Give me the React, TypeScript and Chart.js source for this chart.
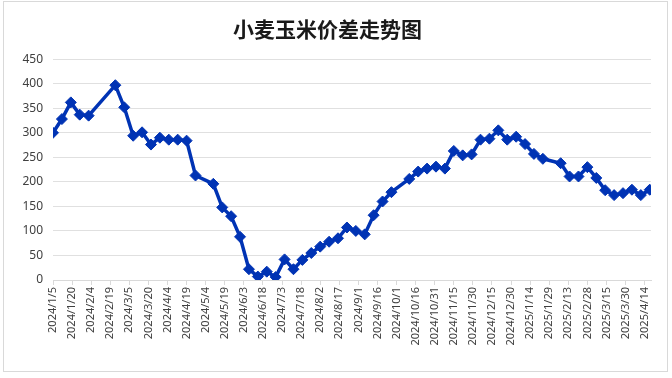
import React, { useEffect, useRef } from "react";
import { Chart, registerables } from "chart.js";

Chart.register(...registerables);

const titleText = "小麦玉米价差走势图";

const dates = [
  "2024/1/5", "2024/1/12", "2024/1/19", "2024/1/26", "2024/2/2", "2024/2/23",
  "2024/3/1", "2024/3/8", "2024/3/15", "2024/3/22", "2024/3/29", "2024/4/5",
  "2024/4/12", "2024/4/19", "2024/4/26", "2024/5/10", "2024/5/17", "2024/5/24",
  "2024/5/31", "2024/6/7", "2024/6/14", "2024/6/21", "2024/6/28", "2024/7/5",
  "2024/7/12", "2024/7/19", "2024/7/26", "2024/8/2", "2024/8/9", "2024/8/16",
  "2024/8/23", "2024/8/30", "2024/9/6", "2024/9/13", "2024/9/20", "2024/9/27",
  "2024/10/11", "2024/10/18", "2024/10/25", "2024/11/1", "2024/11/8", "2024/11/15",
  "2024/11/22", "2024/11/29", "2024/12/6", "2024/12/13", "2024/12/20", "2024/12/27",
  "2025/1/3", "2025/1/10", "2025/1/17", "2025/1/24", "2025/2/7", "2025/2/14",
  "2025/2/21", "2025/2/28", "2025/3/7", "2025/3/14", "2025/3/21", "2025/3/28",
  "2025/4/4", "2025/4/11", "2025/4/18",
];

const spread = [
  300, 328, 362, 337, 335, 397,
  352, 294, 301, 276, 290, 286,
  286, 284, 213, 196, 148, 130,
  88, 22, 7, 17, 6, 42,
  22, 41, 55, 68, 78, 85,
  107, 100, 93, 132, 160, 179,
  206, 221, 227, 231, 227, 263,
  254, 256, 286, 288, 305, 286,
  292, 277, 257, 247, 238, 211,
  211, 230, 208, 183, 173, 177,
  184, 173, 184,
];

const xTickLabels = [
  "2024/1/5", "2024/1/20", "2024/2/4", "2024/2/19", "2024/3/5", "2024/3/20",
  "2024/4/4", "2024/4/19", "2024/5/4", "2024/5/19", "2024/6/3", "2024/6/18",
  "2024/7/3", "2024/7/18", "2024/8/2", "2024/8/17", "2024/9/1", "2024/9/16",
  "2024/10/1", "2024/10/16", "2024/10/31", "2024/11/15", "2024/11/30", "2024/12/15",
  "2024/12/30", "2025/1/14", "2025/1/29", "2025/2/13", "2025/2/28", "2025/3/15",
  "2025/3/30", "2025/4/14",
];

const yTicks = [0, 50, 100, 150, 200, 250, 300, 350, 400, 450];

const DAY = 86400000;
const toUTC = (s: string) => {
  const [y, m, d] = s.split("/").map(Number);
  return Date.UTC(y, m - 1, d);
};
const origin = toUTC(dates[0]);
const toDay = (s: string) => Math.round((toUTC(s) - origin) / DAY);

export default function App() {
  const ref = useRef<HTMLCanvasElement | null>(null);

  useEffect(() => {
    if (!ref.current) return;
    const points = dates.map((d, i) => ({ x: toDay(d), y: spread[i] }));
    const tickDays = xTickLabels.map(toDay);
    const labelByDay: Record<number, string> = {};
    xTickLabels.forEach((l, i) => (labelByDay[tickDays[i]] = l));

    const chart = new Chart(ref.current, {
      type: "line",
      data: {
        datasets: [
          {
            data: points,
            borderColor: "#0033B4",
            backgroundColor: "#0033B4",
            borderWidth: 3.5,
            pointStyle: "rectRot",
            pointRadius: 5.5,
            pointBorderWidth: 1,
            pointBackgroundColor: "#0033B4",
            pointBorderColor: "#0033B4",
            tension: 0,
          },
        ],
      },
      options: {
        animation: false,
        responsive: false,
        layout: { padding: { left: 0, right: 16, top: 0, bottom: 0 } },
        plugins: {
          legend: { display: false },
          tooltip: { enabled: false },
          title: {
            display: true,
            text: titleText,
            color: "#1a1a1a",
            font: { family: "'Noto Sans CJK SC'", size: 21, weight: "bold" },
            padding: { top: 14, bottom: 18 },
          },
        },
        scales: {
          x: {
            type: "linear",
            min: 0,
            max: 470,
            afterBuildTicks: (axis: any) => {
              axis.ticks = tickDays.map((v) => ({ value: v }));
            },
            afterFit: (axis: any) => {
              axis.height = 91;
            },
            ticks: {
              autoSkip: false,
              minRotation: 90,
              maxRotation: 90,
              color: "#404040",
              padding: 2,
              font: { family: "'Noto Sans'", size: 11 },
              callback: (v: any) => labelByDay[v as number] ?? "",
            },
            grid: {
              drawOnChartArea: false,
              drawTicks: true,
              tickLength: 5,
              color: "#d9d9d9",
            },
            border: { display: true, color: "#d9d9d9", width: 1 },
          },
          y: {
            min: 0,
            max: 450,
            afterBuildTicks: (axis: any) => {
              axis.ticks = yTicks.map((v) => ({ value: v }));
            },
            afterFit: (axis: any) => {
              axis.width = 49;
            },
            ticks: {
              color: "#404040",
              padding: 10,
              font: { family: "'Noto Sans'", size: 12 },
            },
            grid: { color: "#e0e0e0", drawTicks: false, lineWidth: 1 },
            border: { display: false },
          },
        },
      },
    } as any);
    return () => chart.destroy();
  }, []);

  return (
    <div
      style={{
        position: "fixed",
        left: 3,
        top: 1,
        width: 663,
        height: 369,
        border: "1px solid #d9d9d9",
        background: "#fff",
      }}
    >
      <canvas ref={ref} width={663} height={369} style={{ display: "block" }} />
    </div>
  );
}
